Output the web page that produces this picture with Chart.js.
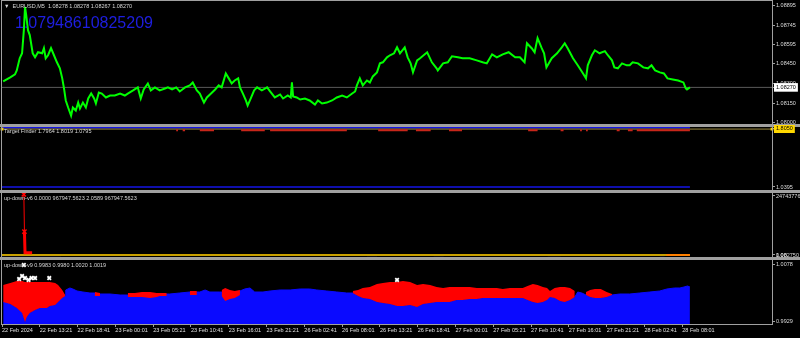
<!DOCTYPE html>
<html>
<head>
<meta charset="utf-8">
<script src="https://cdn.jsdelivr.net/npm/chart.js@4.4.1/dist/chart.umd.min.js"></script>
<style>
html, body { margin: 0; padding: 0; background: #000; }
#wrap { position: relative; width: 800px; height: 338px; overflow: hidden; background: #000; }
canvas { position: absolute; left: 0; }
.sep { position: absolute; left: 0; width: 800px; height: 3px; background: #a0a0a0; }
.lbl { position: absolute; left: 4px; font-family: "Liberation Sans", Arial, sans-serif; font-size: 5.5px; line-height: 6px; color: #d8d8d8; white-space: nowrap; }
#big { position: absolute; left: 15px; top: 15px; font-family: "Liberation Sans", Arial, sans-serif; font-size: 16px; line-height: 16px; color: #1e1ee0; white-space: nowrap; }
</style>
</head>
<body>
<div id="wrap">
  <div class="sep" style="top:124px"></div>
  <div class="sep" style="top:190px"></div>
  <div class="sep" style="top:257px"></div>
  <canvas id="p1" width="800" height="125" style="top:0"></canvas>
  <canvas id="p2" width="800" height="66" style="top:125px"></canvas>
  <canvas id="p3" width="800" height="67" style="top:191px"></canvas>
  <canvas id="p4" width="800" height="80" style="top:258px"></canvas>
  <div class="lbl" style="top:3px">&#9660; &nbsp;EURUSD,M5 &nbsp;1.08278 1.08278 1.08267 1.08270</div>
  <div id="big">1.07948610825209</div>
  <div class="lbl" style="top:128px">Target Finder 1.7964 1.8019 1.0795</div>
  <div class="lbl" style="top:195px">up-down-v6 0.0000 967947.5623 2.0589 967947.5623</div>
  <div class="lbl" style="top:262px">up-down-v9 0.9983 0.9980 1.0020 1.0019</div>
</div>
<script>
// time axis: M5 bars, one label every 64 bars
const XMAX = 1304;
const LAST_BAR = 1165;
const xTickBars = [0, 64, 128, 192, 256, 320, 384, 448, 512, 576, 640, 704, 768, 832, 896, 960, 1024, 1088, 1152];
const xTickLabels = ['22 Feb 2024', '22 Feb 13:21', '22 Feb 18:41', '23 Feb 00:01', '23 Feb 05:21', '23 Feb 10:41',
    '23 Feb 16:01', '23 Feb 21:21', '26 Feb 02:41', '26 Feb 08:01', '26 Feb 13:21', '26 Feb 18:41', '27 Feb 00:01',
    '27 Feb 05:21', '27 Feb 10:41', '27 Feb 16:01', '27 Feb 21:21', '28 Feb 02:41', '28 Feb 08:01'];

// pane 1: EURUSD close
const priceBars = [2,14,22,25,30,34,37,39,41,44,47,52,56,61,68,71,74,78,83,88,93,98,102,105,108,112,117,120,125,129,
    132,137,142,146,151,156,159,164,169,176,183,191,200,208,213,222,230,235,240,247,252,259,267,276,281,288,295,301,310,318,
    323,330,335,342,347,354,361,367,372,379,384,389,394,400,403,408,413,416,422,427,432,440,449,454,462,471,476,484,489,491,
    493,499,505,513,521,530,535,542,550,559,567,576,584,593,598,601,606,611,618,623,628,635,640,645,652,657,664,669,674,682,
    687,692,696,703,708,720,728,736,738,747,755,762,772,780,792,804,814,821,830,838,848,858,869,877,885,889,897,902,907,914,
    918,922,931,940,948,953,958,967,975,984,989,992,999,1004,1012,1021,1026,1033,1037,1043,1050,1058,1063,1068,1077,1086,1094,1100,1106,1114,
    1121,1127,1136,1145,1154,1158,1160,1165];
const priceVals = [1.08316,1.08347,1.08370,1.08400,1.08493,1.08531,1.08708,1.08885,1.08823,1.08708,
    1.08670,1.08531,1.08500,1.08539,1.08531,1.08570,1.08493,1.08516,1.08570,1.08516,
    1.08462,1.08416,1.08339,1.08262,1.08170,1.08116,1.08054,1.08116,1.08093,1.08154,
    1.08108,1.08154,1.08116,1.08185,1.08223,1.08185,1.08147,1.08231,1.08223,1.08193,
    1.08208,1.08208,1.08223,1.08208,1.08223,1.08247,1.08270,1.08185,1.08254,1.08300,
    1.08247,1.08270,1.08247,1.08262,1.08270,1.08254,1.08270,1.08239,1.08270,1.08285,
    1.08308,1.08247,1.08223,1.08154,1.08193,1.08223,1.08254,1.08285,1.08270,1.08377,
    1.08339,1.08300,1.08323,1.08339,1.08270,1.08223,1.08170,1.08131,1.08193,1.08247,
    1.08270,1.08247,1.08270,1.08239,1.08193,1.08216,1.08185,1.08208,1.08193,1.08308,
    1.08200,1.08193,1.08177,1.08185,1.08170,1.08139,1.08170,1.08147,1.08154,1.08170,
    1.08193,1.08208,1.08193,1.08223,1.08239,1.08285,1.08339,1.08285,1.08323,1.08308,
    1.08354,1.08385,1.08454,1.08462,1.08500,1.08516,1.08531,1.08577,1.08531,1.08577,
    1.08500,1.08454,1.08385,1.08477,1.08493,1.08539,1.08462,1.08416,1.08400,1.08454,
    1.08462,1.08508,1.08500,1.08493,1.08493,1.08477,1.08462,1.08454,1.08523,1.08500,
    1.08523,1.08539,1.08500,1.08500,1.08462,1.08608,1.08570,1.08539,1.08647,1.08570,
    1.08531,1.08423,1.08493,1.08531,1.08577,1.08608,1.08570,1.08493,1.08439,1.08377,
    1.08339,1.08439,1.08516,1.08554,1.08531,1.08547,1.08516,1.08477,1.08423,1.08416,
    1.08454,1.08439,1.08439,1.08462,1.08454,1.08423,1.08416,1.08439,1.08400,1.08385,
    1.08377,1.08339,1.08331,1.08323,1.08308,1.08262,1.08254,1.08270];
const lastPrice = 1.08270;
const p1Ticks = [1.08895, 1.08745, 1.08595, 1.08450, 1.08300, 1.08150, 1.08000, 1.08270];
const p1Labels = ['1.08895', '1.08745', '1.08595', '1.08450', '1.08300', '1.08150', '1.08000', '1.08270'];

// pane 2: Target Finder
const tfBlueTop = 1.8175;
const tfLevel = 1.800;
const tfRed = 1.786;
const tfBlueBottom = 1.041;
const tfRedFrom = [295, 306, 335, 405, 454, 637, 701, 757, 891, 946, 979, 989, 1041, 1060, 1075];
const tfRedTo   = [298, 310, 359, 445, 584, 687, 726, 779, 907, 951, 982, 992, 1046, 1068, 1165];
const p2Ticks = [1.0395, 1.8050];
const p2Labels = ['1.0395', '1.8050'];

// pane 3: up-down-v6
const v6Bars = [37, 38, 39, 51];
const v6Vals = [25400000, 9770000, 968000, 968000];
const v6Level = 1.08275;
const v6LavFrom = [0, 618, 731, 924, 1114];
const v6LavTo   = [100, 635, 748, 946, 1122];
const v6Lav = -250000;
const v6OrangeFrom = 1125;
const p3Ticks = [24743776, 0, 1.08275];
const p3Labels = ['24743776', '0.00', '1.082750'];

// pane 4: up-down-v9
const v9Bars = [2,14,25,34,39,42,47,56,64,76, 81,90,95,102,107,108,115,120,127,137,
    149,157,166,183,200,213,225,237,251,262, 267,279,284,301,318,330,335,344,352,369,
    372,378,386,394,403,411,420,428,442,454, 471,488,505,521,533,550,567,584,594,603,
    611,623,635,645,657,669,679,691,703,713, 725,736,747,758,770,780,792,804,814,826,
    838,848,860,872,882,890,899,907,916,923, 928,936,945,953,962,970,975,982,989,996,
    1004,1014,1024,1033,1046,1063,1080,1097,1114,1126, 1139,1148,1155,1161,1165];
const v9Blue = [0.99801,0.99749,0.99645,0.99515,0.99282,0.99412,0.99515,0.99593,0.99645,0.99645,
    0.99697,0.99723,0.99801,0.99905,0.99957,1.00113,1.00165,1.00139,1.00087,1.00061,
    1.00035,1.00035,1.00009,1.00009,0.99983,0.99983,0.99983,1.00009,0.99983,1.00009,
    1.00009,1.00009,1.00009,1.00035,1.00061,1.00061,1.00061,1.00113,1.00061,1.00061,
    1.00061,1.00087,1.00035,1.00061,1.00087,1.00139,1.00165,1.00061,1.00061,1.00087,
    1.00113,1.00113,1.00139,1.00139,1.00113,1.00087,1.00061,1.00035,1.00035,0.99957,
    0.99905,0.99879,0.99801,0.99775,0.99749,0.99697,0.99697,0.99723,0.99671,0.99749,
    0.99775,0.99801,0.99801,0.99801,0.99853,0.99853,0.99879,0.99879,0.99905,0.99905,
    0.99905,0.99905,0.99905,0.99905,0.99905,0.99853,0.99801,0.99775,0.99801,0.99853,
    0.99931,0.99905,0.99827,0.99801,0.99853,0.99931,1.00061,1.00035,0.99983,0.99931,
    0.99905,0.99905,0.99931,0.99983,1.00009,1.00009,1.00035,1.00061,1.00087,1.00139,
    1.00165,1.00165,1.00191,1.00217,1.00191];
const v9RedHi = [1.00243,1.00295,1.00347,1.00347,1.00321,1.00321,1.00321,1.00321,1.00321,1.00321,
    1.00321,1.00295,1.00243,1.00113,0.99983,null,null,null,null,null,
    null,1.00061,1.00035,null,null,1.00035,1.00035,1.00061,1.00061,1.00035,
    1.00035,1.00035,null,null,1.00087,1.00087,null,null,null,null,
    1.00113,1.00165,1.00113,1.00087,1.00113,null,null,null,null,null,
    null,null,null,null,null,null,null,null,1.00087,1.00113,
    1.00165,1.00191,1.00269,1.00295,1.00321,1.00321,1.00347,1.00321,1.00243,1.00269,
    1.00243,1.00191,1.00165,1.00191,1.00191,1.00191,1.00191,1.00165,1.00165,1.00165,
    1.00165,1.00139,1.00165,1.00165,1.00165,1.00217,1.00269,1.00243,1.00191,1.00165,
    1.00087,1.00165,1.00191,1.00191,1.00165,1.00087,null,null,1.00061,1.00113,
    1.00139,1.00139,1.00061,1.00009,null,null,null,null,null,null,
    null,null,null,null,null];
const v9RedLo = [0.99801,0.99749,0.99645,0.99515,0.99282,0.99412,0.99515,0.99593,0.99645,0.99645,
    0.99697,0.99723,0.99801,0.99905,0.99957,null,null,null,null,null,
    null,0.99957,0.99957,null,null,0.99931,0.99931,0.99931,0.99905,0.99931,
    0.99957,0.99957,null,null,0.99983,0.99983,null,null,null,null,
    0.99957,0.99827,0.99879,0.99905,0.99983,null,null,null,null,null,
    null,null,null,null,null,null,null,null,1.00035,0.99957,
    0.99905,0.99879,0.99801,0.99775,0.99749,0.99697,0.99697,0.99723,0.99671,0.99749,
    0.99775,0.99801,0.99801,0.99801,0.99853,0.99853,0.99879,0.99879,0.99905,0.99905,
    0.99905,0.99905,0.99905,0.99905,0.99905,0.99853,0.99801,0.99775,0.99801,0.99853,
    0.99931,0.99905,0.99827,0.99801,0.99853,0.99931,null,null,0.99983,0.99931,
    0.99905,0.99905,0.99931,0.99983,null,null,null,null,null,null,
    null,null,null,null,null];
const v9MarkBars = [29, 34, 39, 37, 45, 50, 56, 80, 669];
const v9MarkVals = [1.00398, 1.00476, 1.00424, 1.00762, 1.00373, 1.00424, 1.00424, 1.00424, 1.00373];
const p4Ticks = [1.0078, 0.9929];
const p4Labels = ['1.0078', '0.9929'];

function pts(xs, ys) { return xs.map((x, i) => ({x: x, y: ys[i]})); }
function segs(from, to, v) {
    const out = [];
    from.forEach((f, i) => { out.push({x: f, y: v}, {x: to[i], y: v}, {x: to[i], y: null}); });
    return out;
}

const frame = {
    id: 'frame',
    afterDraw(chart) {
        const {ctx, chartArea: a} = chart;
        ctx.save();
        ctx.strokeStyle = '#a0a0a0';
        ctx.lineWidth = 1;
        ctx.strokeRect(a.left - 0.5, a.top - 0.5, a.right - a.left + 1, a.bottom - a.top + 1);
        ctx.restore();
    }
};

const FONT = {family: '"Liberation Sans", Arial, sans-serif', size: 5.5};

function options(yMin, yMax, tickVals, tickLabels, pad, showX, boxes) {
    boxes = boxes || {};
    return {
        responsive: false, animation: false, devicePixelRatio: 1,
        layout: {autoPadding: false, padding: {left: 2, right: 0, top: pad[0], bottom: pad[1]}},
        plugins: {legend: {display: false}, tooltip: {enabled: false}},
        elements: {point: {radius: 0, hoverRadius: 0}, line: {tension: 0}},
        scales: {
            x: {
                type: 'linear', min: 0, max: XMAX, display: showX,
                grid: {drawOnChartArea: false, color: '#a0a0a0', tickLength: 3},
                border: {display: false},
                ticks: {color: '#e0e0e0', font: FONT, align: 'start', padding: 0,
                        maxRotation: 0, autoSkip: false, callback: (v, i) => xTickLabels[i]},
                afterBuildTicks: s => { s.ticks = xTickBars.map(v => ({value: v})); },
                afterFit: s => { s.height = showX ? 14 : 0; s.paddingLeft = 0; s.paddingRight = 0; }
            },
            y: {
                position: 'right', min: yMin, max: yMax,
                grid: {drawOnChartArea: false, color: '#a0a0a0', tickLength: 3},
                border: {display: false},
                ticks: {
                    font: FONT, padding: 1, autoSkip: false,
                    callback: (v, i) => tickLabels[i],
                    color: c => boxes[c.index] ? '#000' : '#dcdcdc',
                    showLabelBackdrop: c => !!boxes[c.index],
                    backdropColor: c => boxes[c.index] || 'transparent',
                    backdropPadding: {left: 2, right: 2, top: 1, bottom: 1}
                },
                afterBuildTicks: s => { s.ticks = tickVals.map(v => ({value: v})); },
                afterFit: s => { s.width = 28; s.paddingTop = 0; s.paddingBottom = 0; }
            }
        }
    };
}

new Chart(document.getElementById('p1'), {
    type: 'line',
    data: {datasets: [
        {data: pts(priceBars, priceVals), borderColor: '#00ff00', borderWidth: 2},
        {data: pts([0, XMAX], [lastPrice, lastPrice]), borderColor: '#5a5a5a', borderWidth: 1}
    ]},
    options: options(1.07990, 1.08931, p1Ticks, p1Labels, [1, 1], false, {7: '#ffffff'}),
    plugins: [frame]
});

new Chart(document.getElementById('p2'), {
    type: 'line',
    data: {datasets: [
        {data: segs(tfRedFrom, tfRedTo, tfRed), borderColor: '#c8261a', borderWidth: 2},
        {data: pts([0, XMAX], [tfLevel, tfLevel]), borderColor: '#9c8a3c', borderWidth: 1, clip: false,
         pointRadius: 2, pointStyle: 'rect', pointBackgroundColor: '#ffd700', pointBorderWidth: 0},
        {data: pts([0, LAST_BAR], [tfBlueTop, tfBlueTop]), borderColor: '#1414e6', borderWidth: 1.5},
        {data: pts([0, LAST_BAR], [tfBlueBottom, tfBlueBottom]), borderColor: '#1414e6', borderWidth: 1.5}
    ]},
    options: options(1.0001, 1.8273, p2Ticks, p2Labels, [2, 1], false, {1: '#ffd700'}),
    plugins: [frame]
});

new Chart(document.getElementById('p3'), {
    type: 'line',
    data: {datasets: [
        {data: pts(v6Bars, v6Vals), borderColor: '#ff0000', borderWidth: 3,
         segment: {borderWidth: c => c.p0DataIndex === 0 ? 1 : 3},
         pointRadius: [3, 3, 0, 0], pointStyle: 'crossRot', pointBorderColor: '#ff0000', pointBorderWidth: 1.5},
        {data: pts([v6OrangeFrom, LAST_BAR], [v6Level, v6Level]), borderColor: '#ff8000', borderWidth: 2},
        {data: pts([0, LAST_BAR], [v6Level, v6Level]), borderColor: '#c8a000', borderWidth: 2},
        {data: segs(v6LavFrom, v6LavTo, v6Lav), borderColor: '#7a74b4', borderWidth: 1}
    ]},
    options: options(-840000, 26000000, p3Ticks, p3Labels, [2, 1], false),
    plugins: [frame]
});

new Chart(document.getElementById('p4'), {
    type: 'line',
    data: {datasets: [
        {data: pts(v9MarkBars, v9MarkVals), showLine: false, pointRadius: 2.5, pointStyle: 'crossRot',
         pointBorderColor: '#ffffff', pointBorderWidth: 1.8},
        {data: pts(v9Bars, v9RedHi), borderWidth: 0, borderColor: 'rgba(0,0,0,0)',
         backgroundColor: '#ff0000', fill: '+1'},
        {data: pts(v9Bars, v9RedLo), borderWidth: 0, borderColor: 'rgba(0,0,0,0)'},
        {data: pts(v9Bars, v9Blue), borderWidth: 1, borderColor: '#0a0aff',
         backgroundColor: '#0a0aff', fill: 'start'}
    ]},
    options: options(0.99230, 1.00892, p4Ticks, p4Labels, [2, 0], true),
    plugins: [frame]
});
</script>
</body>
</html>
